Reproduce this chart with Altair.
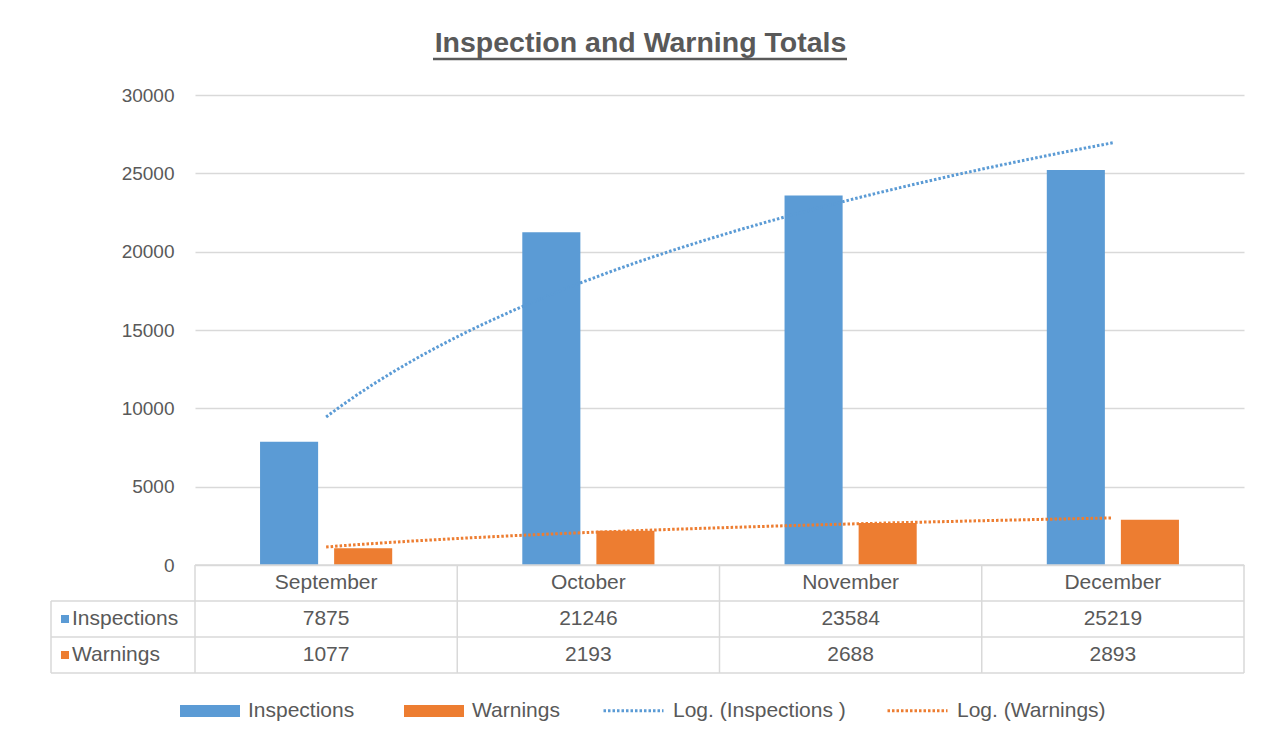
import altair as alt
import pandas as pd

# ---- data ----
months = ["September", "October", "November", "December"]
inspections = [7875, 21246, 23584, 25219]
warnings = [1077, 2193, 2688, 2893]
series_names = ["Inspections", "Warnings"]
trend_names = ["Log. (Inspections )", "Log. (Warnings)"]
colors = ["#5B9BD5", "#ED7D31"]
y_ticks = [0, 5000, 10000, 15000, 20000, 25000, 30000]
title_text = "Inspection and Warning  Totals"

TXT = "#595959"
GRID = "#d9d9d9"
FONT = "Liberation Sans"
NOVIEW = alt.ViewBackground(stroke="transparent", strokeWidth=0)

rows = []
for s, tname, vals in zip(series_names, trend_names, [inspections, warnings]):
    for i, (m, v) in enumerate(zip(months, vals)):
        rows.append({"month": m, "series": s, "trend": tname, "idx": i + 1, "value": v})
df = pd.DataFrame(rows)

bar_legend = alt.Legend(
    title=None, orient="none", direction="horizontal",
    legendX=129, legendY=586,
    symbolSize=3600, symbolType="M-1,-0.2H1V0.2H-1Z", symbolStrokeWidth=0,
    labelFontSize=21, labelColor=TXT, labelFont=FONT, labelOffset=8,
    columnPadding=49, symbolOpacity=1, labelLimit=400,
)
trend_legend = alt.Legend(
    title=None, orient="none", direction="horizontal",
    legendX=551, legendY=584,
    symbolSize=3600, symbolType="stroke", symbolStrokeWidth=3, symbolDash=[2.5, 2],
    labelFontSize=21, labelColor=TXT, labelFont=FONT, labelOffset=8,
    columnPadding=35, symbolOpacity=1, labelLimit=400,
)

yaxis = alt.Axis(values=y_ticks, format="d", grid=True, gridColor=GRID, gridWidth=1.5, domain=False,
                 ticks=False, tickSize=0, labelPadding=21, labelFontSize=19,
                 labelColor=TXT, labelFont=FONT, title=None)
yscale = alt.Scale(domain=[0, 30000], nice=False)

bars = alt.Chart(df).mark_bar().encode(
    x=alt.X("month:N", sort=months, scale=alt.Scale(paddingInner=0, paddingOuter=0), axis=None),
    xOffset=alt.XOffset("series:N", sort=series_names,
                        scale=alt.Scale(paddingInner=0.216, paddingOuter=0.878)),
    y=alt.Y("value:Q", scale=yscale, axis=yaxis),
    color=alt.Color("series:N", scale=alt.Scale(domain=series_names, range=colors), legend=bar_legend),
)

trend = alt.Chart(df).transform_regression(
    "idx", "value", method="log", groupby=["trend"], extent=[1, 4]
).mark_line(strokeDash=[2.5, 2], strokeWidth=3).encode(
    x=alt.X("idx:Q", scale=alt.Scale(domain=[0.5, 4.5], nice=False, zero=False), axis=None),
    y=alt.Y("value:Q", scale=yscale, axis=yaxis),
    stroke=alt.Stroke("trend:N", scale=alt.Scale(domain=trend_names, range=colors), legend=trend_legend),
)

# title underline (decoration)
underline = alt.Chart(pd.DataFrame({"a": [0]})).mark_rule(color=TXT, strokeWidth=2.5).encode(
    x=alt.value(238), x2=alt.value(652), y=alt.value(-36)
)

main = alt.layer(bars, trend, underline).resolve_scale(x="independent").properties(
    width=1049, height=470, view=NOVIEW)

# ---- data table ----
table_rows = ["Month"] + series_names
trows = []
for m in months:
    trows.append({"month": m, "row": "Month", "text": m})
for s, vals in zip(series_names, [inspections, warnings]):
    for m, v in zip(months, vals):
        trows.append({"month": m, "row": s, "text": str(v)})
tdf = pd.DataFrame(trows)

txscale = alt.Scale(domain=months, paddingInner=0, paddingOuter=0)
tyscale = alt.Scale(domain=table_rows, paddingInner=0, paddingOuter=0)
RULE = dict(color=GRID, strokeWidth=1.5)

ttext = alt.Chart(tdf).mark_text(fontSize=21, color=TXT, font=FONT).encode(
    x=alt.X("month:N", scale=txscale, axis=None),
    y=alt.Y("row:N", scale=tyscale, axis=None),
    text="text:N",
)
mdf = pd.DataFrame({"month": months})
rdf = pd.DataFrame({"row": table_rows})
vlines = alt.Chart(mdf).mark_rule(**RULE).encode(
    x=alt.X("month:N", scale=txscale, axis=None, bandPosition=0)
)
vline_end = alt.Chart(mdf).transform_filter(alt.datum.month == months[-1]).mark_rule(**RULE).encode(
    x=alt.X("month:N", scale=txscale, axis=None, bandPosition=1)
)
hlines = alt.Chart(rdf).mark_rule(**RULE).encode(
    y=alt.Y("row:N", scale=tyscale, axis=None, bandPosition=0)
)
hline_end = alt.Chart(rdf).transform_filter(alt.datum.row == table_rows[-1]).mark_rule(**RULE).encode(
    y=alt.Y("row:N", scale=tyscale, axis=None, bandPosition=1)
)
table = alt.layer(hlines, hline_end, vlines, vline_end, ttext).properties(
    width=1049, height=108, view=NOVIEW)

ldf = pd.DataFrame({"row": series_names, "sq": colors})
l_top = alt.Chart(ldf).mark_rule(**RULE).encode(
    y=alt.Y("row:N", scale=tyscale, axis=None, bandPosition=0)
)
l_bottom = alt.Chart(ldf).transform_filter(alt.datum.row == series_names[-1]).mark_rule(**RULE).encode(
    y=alt.Y("row:N", scale=tyscale, axis=None, bandPosition=1)
)
l_left = alt.Chart(ldf).transform_filter(alt.datum.row == series_names[0]).mark_rule(**RULE).encode(
    x=alt.value(0),
    y=alt.Y("row:N", scale=tyscale, axis=None, bandPosition=0),
    y2=alt.value(108),
)
squares = alt.Chart(ldf).mark_point(shape="square", filled=True, size=64, opacity=1).encode(
    x=alt.value(14), y=alt.Y("row:N", scale=tyscale, axis=None),
    color=alt.Color("sq:N", scale=None, legend=None)
)
names = alt.Chart(ldf).mark_text(align="left", fontSize=21, color=TXT, font=FONT).encode(
    x=alt.value(21), y=alt.Y("row:N", scale=tyscale, axis=None), text="row:N"
)
labels = alt.layer(l_top, l_bottom, l_left, squares, names).properties(
    width=144, height=108, view=NOVIEW)

blank = alt.Chart(pd.DataFrame({"t": [""]})).mark_text().encode(text="t:N").properties(
    width=144, height=470, view=NOVIEW)

chart = alt.concat(blank, main, labels, table, columns=2, spacing=0).properties(
    bounds="flush", align="each",
    title=alt.TitleParams(title_text, fontSize=28.5, fontWeight="bold", color=TXT, font=FONT,
                          anchor="middle", offset=0, dx=-7),
    padding={"left": 42, "top": 21, "right": 5, "bottom": 5},
).configure_view(stroke="transparent", strokeWidth=0).configure(font=FONT)

chart.save("out.html", embed_options={"renderer": "svg", "actions": False})
